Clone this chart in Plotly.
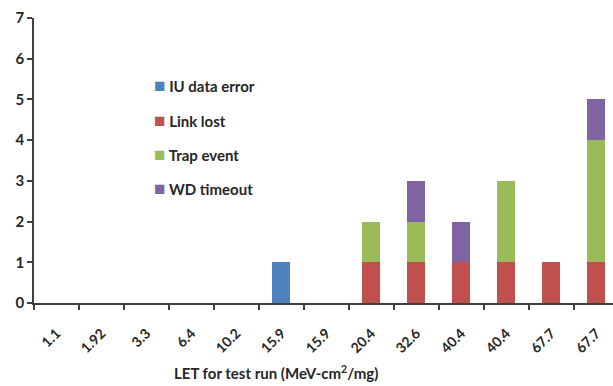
import plotly.graph_objects as go

labels = ["1.1", "1.92", "3.3", "6.4", "10.2", "15.9", "15.9", "20.4", "32.6", "40.4", "40.4", "67.7", "67.7"]
iu_data_error = [0, 0, 0, 0, 0, 1, 0, 0, 0, 0, 0, 0, 0]
link_lost = [0, 0, 0, 0, 0, 0, 0, 1, 1, 1, 1, 1, 1]
trap_event = [0, 0, 0, 0, 0, 0, 0, 1, 1, 0, 2, 0, 3]
wd_timeout = [0, 0, 0, 0, 0, 0, 0, 0, 1, 1, 0, 0, 1]

series = [
    ("IU data error", iu_data_error, "#4F81BD"),
    ("Link lost", link_lost, "#C0504D"),
    ("Trap event", trap_event, "#9BBB59"),
    ("WD timeout", wd_timeout, "#8064A2"),
]

x = list(range(len(labels)))
FONT = "Lato"
TXT = "#262626"

fig = go.Figure()
for name, vals, color in series:
    fig.add_trace(go.Bar(
        x=x, y=vals, name=name,
        marker=dict(color=color, line=dict(width=0)),
        showlegend=False,
    ))

# legend drawn as annotations (compact marker/text spacing as in reference)
legend_ann = []
for i, (name, vals, color) in enumerate(series):
    legend_ann.append(dict(
        text=f'<span style="color:{color};font-size:19px">■</span> {name}',
        xref="paper", yref="paper",
        x=(152 - 34) / 579, y=(303 - (85 + 34 * i)) / 285,
        xanchor="left", yanchor="middle", showarrow=False,
        font=dict(family=FONT, size=15, color=TXT, weight="bold"),
    ))

fig.update_layout(
    width=613, height=386,
    margin=dict(l=34, r=0, t=18, b=83),
    paper_bgcolor="white", plot_bgcolor="white",
    barmode="stack", bargap=0.6,
    font=dict(family=FONT, color=TXT),
    showlegend=False,
    xaxis=dict(
        range=[-0.5, 12.37],
        tickmode="array", tickvals=x, ticktext=labels,
        tickangle=-45, ticks="", ticklabelstandoff=15,
        tickfont=dict(family=FONT, size=14, color=TXT, weight="bold"),
        showline=True, linecolor="#404040", linewidth=1.5,
        showgrid=False, zeroline=False,
        minor=dict(tickmode="linear", tick0=0.5, dtick=1, ticks="outside",
                   ticklen=5, tickwidth=1.5, tickcolor="#404040", showgrid=False),
    ),
    yaxis=dict(
        range=[0, 7], dtick=1, ticks="outside", ticklen=5, tickwidth=1.5,
        tickcolor="#404040",
        tickfont=dict(family=FONT, size=15, color=TXT, weight="bold"),
        showline=True, linecolor="#404040", linewidth=1.5,
        showgrid=False, zeroline=False,
    ),
    annotations=legend_ann + [dict(
        text="LET for test run (MeV-cm<sup>2</sup>/mg)",
        xref="paper", yref="paper", x=(276 - 34) / 579, y=(303 - 373) / 285,
        xanchor="center", yanchor="middle", showarrow=False,
        font=dict(family=FONT, size=15, color=TXT, weight="bold"),
    )],
)

fig.write_html("out.html")
